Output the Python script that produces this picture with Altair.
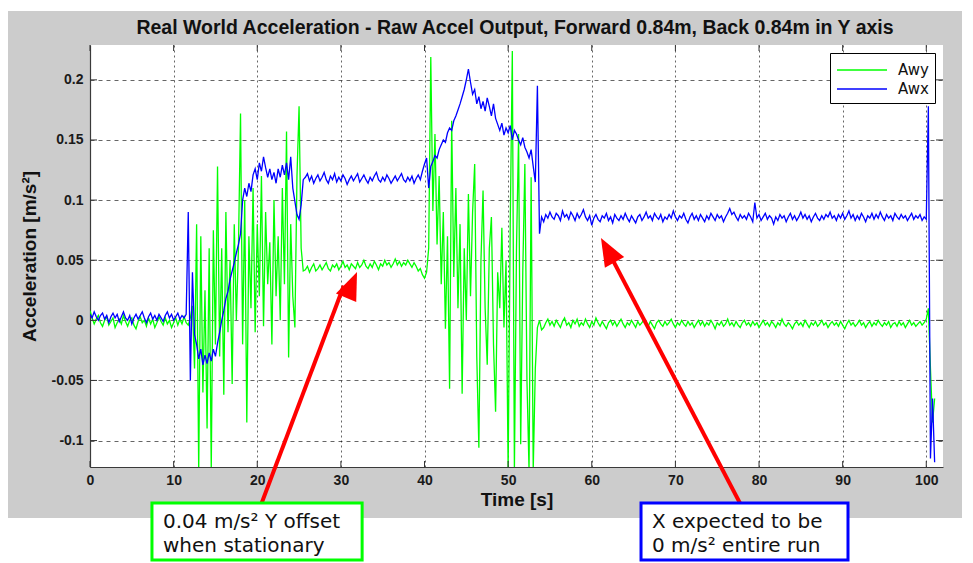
import altair as alt
import pandas as pd

# ---------------- data ----------------
# sampling grid: start time of each recorded segment, common step (s)
seg_start = [0.0, 11.75, 25.75, 40.25, 54.25, 100.25]
sample_step = 0.25

# Awy (green) values per segment
awy_0_12 = [0.008, 0.002, -0.003, 0.001, 0.004, -0.002, -0.005, 0.000, 0.003, -0.004,
            -0.001, 0.002, -0.006, -0.002, 0.001, -0.003, 0.004, -0.001, -0.005, 0.000,
            0.002, -0.004, -0.007, -0.001, 0.003, -0.002, 0.000, -0.005, 0.002, -0.003,
            0.001, -0.006, -0.002, 0.003, -0.001, -0.004, 0.002, -0.003, 0.000, -0.006,
            -0.002, 0.002, -0.004, 0.001, -0.003, 0.003, -0.002]
awy_12_26 = [-0.004, 0.002, 0.012, -0.040, 0.080, -0.125, 0.070, -0.060, 0.025, -0.090,
             0.060, -0.125, 0.075, -0.020, 0.128, -0.030, 0.060, -0.062, 0.090, -0.010,
             0.050, -0.053, 0.080, 0.000, 0.060, 0.172, -0.020, 0.100, -0.085, 0.070,
             0.010, 0.110, -0.010, 0.080, 0.020, 0.120, -0.005, 0.090, 0.030, 0.065,
             -0.020, 0.100, 0.020, 0.070, 0.000, 0.110, 0.030, 0.157, -0.031, 0.080,
             0.020, -0.006, 0.120, 0.178, 0.060, 0.041]
awy_26_40 = [0.042, 0.045, 0.040, 0.044, 0.047, 0.041, 0.043, 0.046, 0.042, 0.045,
             0.048, 0.043, 0.041, 0.046, 0.044, 0.047, 0.042, 0.045, 0.049, 0.044,
             0.046, 0.042, 0.047, 0.045, 0.043, 0.048, 0.044, 0.046, 0.050, 0.045,
             0.043, 0.047, 0.044, 0.049, 0.046, 0.042, 0.047, 0.045, 0.050, 0.046,
             0.048, 0.044, 0.047, 0.051, 0.046, 0.049, 0.045, 0.048, 0.046, 0.050,
             0.047, 0.044, 0.048, 0.045, 0.041, 0.043, 0.038, 0.035]
awy_40_54 = [0.040, 0.060, 0.219, 0.091, 0.155, 0.063, 0.120, 0.030, 0.090, -0.007,
             0.070, -0.057, 0.166, 0.036, 0.110, 0.010, 0.080, -0.061, 0.060, 0.000,
             0.105, 0.020, 0.090, 0.130, -0.030, -0.106, 0.050, 0.108, 0.010, -0.037,
             0.060, 0.086, -0.020, -0.076, 0.040, 0.010, 0.077, -0.006, 0.050, -0.125,
             0.080, 0.224, -0.125, 0.060, 0.155, -0.103, 0.040, 0.130, -0.050, -0.125,
             0.119, -0.125, -0.040, -0.006, 0.000, -0.008]
awy_54_100 = [-0.006, -0.002, 0.001, -0.004, -0.001, -0.005, 0.000, -0.003, -0.006, -0.001,
              0.002, -0.004, -0.002, -0.006, 0.000, -0.003, 0.001, -0.005, -0.002, -0.004,
              0.001, -0.003, -0.006, -0.001, -0.004, 0.002, -0.002, -0.005, -0.001, -0.004,
              -0.007, -0.002, 0.000, -0.004, -0.001, -0.005, -0.002, 0.001, -0.003, -0.006,
              -0.002, -0.004, 0.000, -0.003, -0.006, -0.001, -0.004, -0.002, 0.001, -0.003,
              -0.005, -0.001, -0.004, -0.007, -0.002, 0.000, -0.003, -0.005, -0.001, -0.004,
              -0.002, 0.001, -0.003, -0.006, -0.002, -0.004, 0.000, -0.003, -0.005, -0.001,
              -0.004, -0.002, -0.006, -0.003, 0.000, -0.004, -0.001, -0.005, -0.002, -0.004,
              0.000, -0.003, -0.007, -0.002, -0.004, -0.001, -0.005, -0.003, 0.001, -0.004,
              -0.002, -0.005, -0.001, -0.004, -0.006, -0.002, 0.000, -0.004, -0.002, -0.005,
              -0.001, -0.004, -0.002, -0.006, -0.003, 0.000, -0.004, -0.002, -0.005, -0.001,
              -0.003, -0.006, -0.002, -0.004, 0.001, -0.003, -0.005, -0.002, -0.004, -0.007,
              -0.003, -0.001, -0.004, -0.002, -0.005, 0.000, -0.003, -0.006, -0.002, -0.004,
              -0.001, -0.005, -0.003, 0.000, -0.004, -0.002, -0.006, -0.003, -0.001, -0.004,
              -0.002, -0.005, -0.001, -0.004, -0.007, -0.003, 0.000, -0.004, -0.002, -0.005,
              -0.003, 0.000, -0.004, -0.002, -0.006, -0.003, -0.001, -0.005, -0.002, -0.004,
              0.000, -0.003, -0.005, -0.002, -0.004, -0.001, -0.006, -0.003, -0.002, -0.005,
              -0.001, -0.004, -0.002, -0.006, -0.003, 0.000, -0.004, -0.002, -0.005, -0.003,
              -0.001, -0.004, -0.002, 0.001]
awy_end = [0.010, -0.040, -0.085, -0.065]

# Awx (blue) values per segment
awx_0_12 = [0.005, 0.002, 0.007, 0.003, 0.000, 0.004, 0.006, 0.001, 0.004, -0.002,
            0.003, 0.006, 0.002, 0.005, -0.001, 0.003, 0.007, 0.002, 0.000, 0.004,
            -0.003, 0.002, 0.005, 0.001, 0.004, 0.007, 0.002, -0.002, 0.003, 0.006,
            0.001, 0.004, 0.000, 0.005, 0.002, -0.001, 0.004, 0.007, 0.002, 0.005,
            0.000, 0.003, 0.006, 0.001, 0.004, 0.002, 0.005]
awx_12_26 = [0.090, -0.050, 0.040, -0.012, -0.020, -0.032, -0.024, -0.037, -0.029, -0.036,
             -0.027, -0.034, -0.024, -0.030, -0.019, -0.010, 0.000, 0.008, 0.018, 0.024,
             0.034, 0.041, 0.048, 0.056, 0.063, 0.072, 0.100, 0.110, 0.103, 0.114,
             0.107, 0.121, 0.126, 0.117, 0.131, 0.124, 0.136, 0.127, 0.119, 0.126,
             0.117, 0.123, 0.114, 0.126, 0.119, 0.129, 0.121, 0.131, 0.117, 0.136,
             0.110, 0.099, 0.088, 0.084, 0.096, 0.117]
awx_26_40 = [0.119, 0.122, 0.116, 0.120, 0.114, 0.118, 0.121, 0.116, 0.119, 0.123,
             0.117, 0.114, 0.120, 0.117, 0.122, 0.115, 0.119, 0.116, 0.121, 0.118,
             0.113, 0.117, 0.120, 0.116, 0.119, 0.122, 0.115, 0.118, 0.121, 0.117,
             0.114, 0.119, 0.116, 0.120, 0.123, 0.117, 0.115, 0.119, 0.116, 0.121,
             0.118, 0.114, 0.117, 0.120, 0.116, 0.119, 0.122, 0.117, 0.115, 0.119,
             0.116, 0.120, 0.114, 0.118, 0.121, 0.117, 0.124, 0.130]
awx_40_54 = [0.135, 0.110, 0.128, 0.132, 0.137, 0.135, 0.142, 0.146, 0.150, 0.148,
             0.156, 0.160, 0.158, 0.166, 0.170, 0.175, 0.180, 0.186, 0.192, 0.200,
             0.209, 0.198, 0.188, 0.192, 0.180, 0.186, 0.176, 0.182, 0.174, 0.185,
             0.178, 0.170, 0.180, 0.168, 0.163, 0.158, 0.164, 0.154, 0.160, 0.156,
             0.162, 0.150, 0.158, 0.155, 0.150, 0.146, 0.152, 0.144, 0.140, 0.135,
             0.142, 0.128, 0.115, 0.195, 0.072, 0.086]
awx_54_100 = [0.082, 0.088, 0.085, 0.090, 0.086, 0.084, 0.089, 0.087, 0.083, 0.091,
              0.086, 0.088, 0.084, 0.090, 0.087, 0.083, 0.089, 0.085, 0.088, 0.092,
              0.086, 0.083, 0.087, 0.079, 0.085, 0.088, 0.084, 0.082, 0.087, 0.085,
              0.089, 0.083, 0.086, 0.081, 0.088, 0.085, 0.083, 0.087, 0.084, 0.089,
              0.085, 0.082, 0.087, 0.084, 0.081, 0.086, 0.088, 0.083, 0.086, 0.090,
              0.085, 0.087, 0.083, 0.089, 0.086, 0.084, 0.088, 0.082, 0.086, 0.084,
              0.088, 0.085, 0.091, 0.086, 0.083, 0.087, 0.085, 0.089, 0.084, 0.081,
              0.086, 0.089, 0.084, 0.087, 0.083, 0.088, 0.085, 0.082, 0.087, 0.084,
              0.089, 0.086, 0.083, 0.088, 0.085, 0.087, 0.082, 0.086, 0.089, 0.093,
              0.088, 0.090, 0.086, 0.083, 0.088, 0.085, 0.087, 0.084, 0.089, 0.086,
              0.082, 0.098, 0.085, 0.088, 0.083, 0.086, 0.089, 0.084, 0.087, 0.085,
              0.080, 0.086, 0.083, 0.088, 0.085, 0.087, 0.082, 0.086, 0.089, 0.084,
              0.087, 0.083, 0.086, 0.090, 0.085, 0.088, 0.084, 0.087, 0.082, 0.086,
              0.089, 0.085, 0.083, 0.087, 0.084, 0.088, 0.086, 0.090, 0.085, 0.087,
              0.083, 0.088, 0.085, 0.089, 0.084, 0.087, 0.091, 0.085, 0.088, 0.083,
              0.087, 0.084, 0.089, 0.086, 0.082, 0.087, 0.085, 0.089, 0.084, 0.088,
              0.085, 0.090, 0.086, 0.083, 0.088, 0.085, 0.087, 0.083, 0.089, 0.086,
              0.084, 0.088, 0.085, 0.087, 0.083, 0.086, 0.089, 0.084, 0.087, 0.085,
              0.088, 0.083, 0.086, 0.084]
awx_end = [0.178, -0.115, -0.065, -0.118]

series_names = ["Awy", "Awx"]
series_colors = ["#00ff00", "#0000ff"]

x_ticks = [0, 10, 20, 30, 40, 50, 60, 70, 80, 90, 100]
y_ticks = [-0.1, -0.05, 0, 0.05, 0.1, 0.15, 0.2]
x_domain = [0, 102]
y_domain = [-0.122, 0.229]

# annotations (data coordinates)
arrow_tail_t = [20.09, 78.32]
arrow_tail_v = [-0.160, -0.160]
arrow_shaft_t = [30.35, 61.96]
arrow_shaft_v = [0.0287, 0.0575]
arrow_tip_t = [31.93, 61.10]
arrow_tip_v = [0.0402, 0.0685]
arrow_angle = [23, 331]

box_t0 = [7.41, 65.89]
box_t1 = [32.54, 90.64]
box_v0 = [-0.152, -0.152]
box_v1 = [-0.1993, -0.1993]
box_colors = ["#00ff00", "#0000ff"]

note_t = [8.73, 8.73, 67.2, 67.2]
note_v = [-0.1677, -0.1877, -0.1677, -0.1877]
note_text = ["0.04 m/s\u00b2 Y offset", "when stationary",
             "X expected to be", "0 m/s\u00b2 entire run"]

title_text = "Real World Acceleration - Raw Accel Output, Forward 0.84m, Back 0.84m in Y axis"


def build(segs, name):
    ts, vs = [], []
    for s0, vals in zip(seg_start, segs):
        for i, v in enumerate(vals):
            ts.append(round(s0 + i * sample_step, 4))
            vs.append(v)
    return pd.DataFrame({"t": ts, "value": vs, "series": name})


df_awy = build([awy_0_12, awy_12_26, awy_26_40, awy_40_54, awy_54_100, awy_end], "Awy")
df_awx = build([awx_0_12, awx_12_26, awx_26_40, awx_40_54, awx_54_100, awx_end], "Awx")

# ---------------- chart ----------------
W, H = 853, 422
FONT = "Liberation Sans"

xscale = alt.Scale(domain=x_domain, nice=False, zero=False)
yscale = alt.Scale(domain=y_domain, nice=False, zero=False)
cscale = alt.Scale(domain=series_names, range=series_colors)

legend = alt.Legend(title=None, orient="top-right", offset=8,
                    symbolType="M-2.5,0L2.5,0", symbolSize=400, symbolOffset=15,
                    symbolStrokeWidth=1.5, labelFont="DejaVu Sans",
                    labelFontSize=15, labelColor="#111111", strokeColor="#000000",
                    fillColor="white", padding=6, rowPadding=0, labelOffset=25,
                    cornerRadius=0)

x_axis = alt.Axis(values=x_ticks, title="Time [s]", grid=True, gridDash=[2, 3],
                  gridColor="#000000", gridOpacity=0.6, ticks=False,
                  domainColor="#3a3a3a", domainWidth=1.2, labelFont=FONT,
                  labelFontSize=14, labelFontWeight="bold", labelColor="#1a1a1a",
                  labelPadding=6, labelFlush=False, titleFont=FONT, titleFontSize=19,
                  titleFontWeight="bold", titleColor="#111111", titlePadding=3)
y_axis = alt.Axis(values=y_ticks, title="Acceleration [m/s\u00b2]", grid=True,
                  gridDash=[4, 4], gridColor="#000000", gridOpacity=0.6, ticks=False,
                  domainColor="#3a3a3a", domainWidth=1.2, labelFont=FONT,
                  labelFontSize=14, labelFontWeight="bold", labelColor="#1a1a1a",
                  labelPadding=7, labelExpr="'' + datum.value", labelFlush=False,
                  titleFont=FONT, titleFontSize=19, titleFontWeight="bold",
                  titleColor="#111111", titlePadding=12)

one = pd.DataFrame({"k": [0]})


def strip(x0, x1, y0, y1):
    return alt.Chart(one).mark_rect(color="white").encode(
        x=alt.value(x0), x2=alt.value(x1), y=alt.value(y0), y2=alt.value(y1))


strips = [strip(-90, 883, -45, -34), strip(-90, -82, -45, 518),
          strip(872, 883, -45, 518), strip(-90, 883, 473, 518)]

title_mark = alt.Chart(one).mark_text(
    text=title_text, font=FONT, fontSize=19.5, fontWeight="bold", color="#111111",
    align="center", baseline="middle").encode(x=alt.value(W / 2 - 1.5), y=alt.value(-17))


def X(field):
    return alt.X(field, scale=xscale, axis=x_axis)


def Y(field):
    return alt.Y(field, scale=yscale, axis=y_axis)


line_awy = alt.Chart(df_awy).mark_line(strokeWidth=1.3, clip=True).encode(
    x=X("t:Q"), y=Y("value:Q"),
    color=alt.Color("series:N", scale=cscale, legend=legend),
)
line_awx = alt.Chart(df_awx).mark_line(strokeWidth=1.3, clip=True).encode(
    x=X("t:Q"), y=Y("value:Q"),
    color=alt.Color("series:N", scale=cscale, legend=legend),
)

xt = pd.DataFrame({"tick": x_ticks})
yt = pd.DataFrame({"tick": y_ticks})
tick_col = "#333333"
xt_bottom = alt.Chart(xt).mark_rule(color=tick_col).encode(
    x=X("tick:Q"), y=alt.value(H), y2=alt.value(H - 6))
xt_top = alt.Chart(xt).mark_rule(color=tick_col).encode(
    x=X("tick:Q"), y=alt.value(0), y2=alt.value(6))
yt_left = alt.Chart(yt).mark_rule(color=tick_col).encode(
    y=Y("tick:Q"), x=alt.value(0), x2=alt.value(7))
yt_right = alt.Chart(yt).mark_rule(color=tick_col).encode(
    y=Y("tick:Q"), x=alt.value(W), x2=alt.value(W - 7))

arrows = pd.DataFrame({"x": arrow_tail_t, "y": arrow_tail_v,
                       "x2": arrow_shaft_t, "y2": arrow_shaft_v})
shafts = alt.Chart(arrows).mark_rule(color="#ff0000", strokeWidth=4).encode(
    x=X("x:Q"), y=Y("y:Q"), x2="x2:Q", y2="y2:Q")

heads_df = pd.DataFrame({"x": arrow_tip_t, "y": arrow_tip_v, "ang": arrow_angle})
heads = alt.Chart(heads_df).mark_point(
    shape="M0,0L0.63,1.6L-0.63,1.6Z", size=1225, filled=True, color="#ff0000",
    opacity=1, strokeWidth=0).encode(
    x=X("x:Q"), y=Y("y:Q"), angle=alt.Angle("ang:Q", scale=None))

boxes_df = pd.DataFrame({"x": box_t0, "x2": box_t1, "y": box_v0, "y2": box_v1,
                         "c": box_colors})
boxes = alt.Chart(boxes_df).mark_rect(fill="white", strokeWidth=3).encode(
    x=X("x:Q"), x2="x2:Q", y=Y("y:Q"), y2="y2:Q",
    stroke=alt.Stroke("c:N", scale=None))

notes_df = pd.DataFrame({"x": note_t, "y": note_v, "label": note_text})
notes = alt.Chart(notes_df).mark_text(
    align="left", baseline="middle", font="DejaVu Sans", fontSize=20,
    color="#111111").encode(x=X("x:Q"), y=Y("y:Q"), text="label:N")

chart = alt.layer(
    *strips, title_mark, line_awy, line_awx, xt_bottom, xt_top, yt_left, yt_right,
    shafts, heads, boxes, notes
).properties(
    width=W, height=H,
    autosize=alt.AutoSizeParams(type="none"),
    padding={"left": 90, "top": 45, "right": 30, "bottom": 96},
    background="#cccccc",
).configure_view(fill="white", strokeWidth=0)

chart.save("out.html", embed_options={"renderer": "svg", "actions": False})
